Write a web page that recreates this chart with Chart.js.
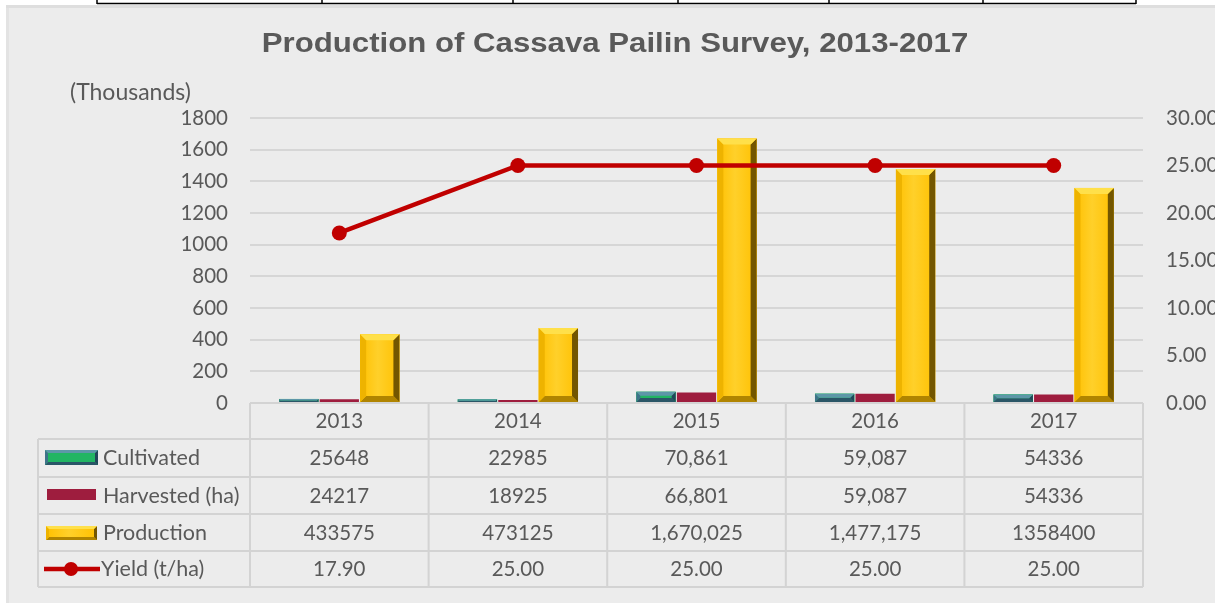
<!DOCTYPE html>
<html>
<head>
<meta charset="utf-8">
<script src="https://cdn.jsdelivr.net/npm/chart.js@4.4.1/dist/chart.umd.min.js"></script>
<style>
  html, body { margin: 0; padding: 0; background: #ffffff; }
  #wrap { width: 1215px; height: 603px; position: relative; }
</style>
</head>
<body>
<div id="wrap"><canvas id="c" width="1215" height="603"></canvas></div>
<script>
// ---- data (as printed in the data table) ----
const years = ['2013', '2014', '2015', '2016', '2017'];
const seriesNames = ['Cultivated', 'Harvested (ha)', 'Production', 'Yield (t/ha)'];
const cultivatedText = ['25648', '22985', '70,861', '59,087', '54336'];
const harvestedText  = ['24217', '18925', '66,801', '59,087', '54336'];
const productionText = ['433575', '473125', '1,670,025', '1,477,175', '1358400'];
const yieldText      = ['17.90', '25.00', '25.00', '25.00', '25.00'];
const leftTicks  = { min: 0, max: 1800, step: 200 };   // thousands
const rightTicks = { min: 0, max: 30, step: 5 };

const toNum = s => Number(s.replace(/,/g, ''));
const cultivated = cultivatedText.map(toNum);
const harvested  = harvestedText.map(toNum);
const production = productionText.map(toNum);
const yieldVals  = yieldText.map(toNum);
const inThousands = arr => arr.map(v => v / 1000);

const TEXT = '#595959';
const FONT = 'Lato, "Open Sans", sans-serif';

// ---- bevelled bar styles ----
const bevel = {
  cultivated: { face: '#21b563', top: '#5d97a8', left: '#3e7389', right: '#22465a', bottom: '#2a5667', size: 4 },
  harvested:  { face: '#9e1d3e', size: 0 },
  production: { face: '#ffc000', hi: '#ffd02a', top: '#ffe04a', left: '#eeb300', right: '#735600', bottom: '#b08400', size: 6 }
};

function drawBevelRect(ctx, L, T, R, B, st) {
  const w = R - L, h = B - T;
  if (w <= 0 || h <= 0) return;
  const g = ctx.createLinearGradient(L, 0, R, 0);
  g.addColorStop(0, st.face);
  g.addColorStop(0.45, st.hi || st.face);
  g.addColorStop(1, st.face);
  ctx.fillStyle = g;
  ctx.fillRect(L, T, w, h);
  const b = Math.min(st.size, h / 2, w / 2);
  if (b <= 0) return;
  const poly = (pts, col) => {
    ctx.beginPath();
    ctx.moveTo(pts[0][0], pts[0][1]);
    for (let i = 1; i < pts.length; i++) ctx.lineTo(pts[i][0], pts[i][1]);
    ctx.closePath();
    ctx.fillStyle = col;
    ctx.fill();
  };
  poly([[L, B], [L + b, B - b], [R - b, B - b], [R, B]], st.bottom);
  poly([[L, T], [L + b, T + b], [L + b, B - b], [L, B]], st.left);
  poly([[R, T], [R, B], [R - b, B - b], [R - b, T + b]], st.right);
  poly([[L, T], [R, T], [R - b, T + b], [L + b, T + b]], st.top);
}

// ---- page frame behind the chart ----
const framePlugin = {
  id: 'frame',
  beforeDraw(chart) {
    const ctx = chart.ctx;
    ctx.save();
    ctx.fillStyle = '#ffffff';
    ctx.fillRect(0, 0, chart.width, chart.height);
    ctx.fillStyle = '#ececec';
    ctx.fillRect(6, 5, chart.width - 6, chart.height - 5);
    ctx.fillStyle = '#dedede';
    ctx.fillRect(6, 5, chart.width - 6, 3);
    ctx.fillStyle = '#e3e3e3';
    ctx.fillRect(6, 8, 3, chart.height - 8);
    // ruled strip along the top edge
    ctx.strokeStyle = '#000000';
    ctx.lineWidth = 1.5;
    ctx.beginPath();
    ctx.moveTo(97, 3.5); ctx.lineTo(1136, 3.5);
    [97, 322, 513, 678, 829, 983, 1136].forEach(x => { ctx.moveTo(x, 0); ctx.lineTo(x, 4); });
    ctx.stroke();
    // title (slightly widened lettering) and unit caption
    ctx.fillStyle = TEXT;
    ctx.font = 'bold 27px "Liberation Sans", Arial, sans-serif';
    ctx.textAlign = 'center';
    ctx.textBaseline = 'middle';
    ctx.save();
    ctx.translate(615, 45);
    ctx.scale(1.155, 1);
    ctx.fillText('Production of Cassava Pailin Survey, 2013-2017', 0, 0);
    ctx.restore();
    ctx.font = '23px ' + FONT;
    ctx.textAlign = 'left';
    ctx.fillText('(Thousands)', 70, 93);
    ctx.restore();
  }
};

// ---- bevel overlay on each bar element ----
const bevelPlugin = {
  id: 'bevel',
  afterDatasetDraw(chart, args) {
    const ds = chart.data.datasets[args.index];
    if (!ds.bevel || ds.bevel.size <= 0) return;
    const ctx = chart.ctx;
    ctx.save();
    args.meta.data.forEach(el => {
      const p = el.getProps(['x', 'y', 'base', 'width'], true);
      const L = p.x - p.width / 2, R = p.x + p.width / 2;
      drawBevelRect(ctx, L, Math.min(p.y, p.base), R, Math.max(p.y, p.base), ds.bevel);
    });
    ctx.restore();
  }
};

// ---- data table under the plot, aligned to the category scale ----
const tablePlugin = {
  id: 'dataTable',
  afterDraw(chart) {
    const ctx = chart.ctx;
    const xs = chart.scales.x;
    const area = chart.chartArea;
    const n = years.length;
    const half = (xs.getPixelForValue(1) - xs.getPixelForValue(0)) / 2;
    const edges = [xs.getPixelForValue(0) - half];
    for (let i = 0; i < n; i++) edges.push(xs.getPixelForValue(i) + half);
    const headTop = area.bottom, headBot = 439;
    const rows = [439, 477, 514, 551, 587];
    const tableLeft = 38;
    ctx.save();
    ctx.strokeStyle = '#d3d3d3';
    ctx.lineWidth = 2;
    ctx.beginPath();
    ctx.moveTo(edges[0], headTop); ctx.lineTo(edges[n], headTop);
    edges.forEach(x => { ctx.moveTo(x, headTop); ctx.lineTo(x, headBot); });
    rows.forEach(y => { ctx.moveTo(tableLeft, y); ctx.lineTo(edges[n], y); });
    [tableLeft].concat(edges).forEach(x => { ctx.moveTo(x, rows[0]); ctx.lineTo(x, rows[rows.length - 1]); });
    ctx.stroke();

    ctx.fillStyle = TEXT;
    ctx.font = '20.5px ' + FONT;
    ctx.textAlign = 'center';
    ctx.textBaseline = 'middle';
    years.forEach((y, i) => ctx.fillText(y, xs.getPixelForValue(i), 421));
    const cols = [cultivatedText, harvestedText, productionText, yieldText];
    cols.forEach((arr, r) => {
      const cy = (rows[r] + rows[r + 1]) / 2 + 0.5;
      arr.forEach((t, i) => ctx.fillText(t, xs.getPixelForValue(i), cy));
    });

    // legend keys + series names
    ctx.textAlign = 'left';
    ctx.font = '21.5px ' + FONT;
    seriesNames.forEach((name, r) => {
      const cy = (rows[r] + rows[r + 1]) / 2 + 0.5;
      ctx.fillStyle = TEXT;
      ctx.fillText(name, r === 3 ? 101 : 103, cy);
    });
    drawBevelRect(ctx, 45, 450, 98, 465, Object.assign({}, bevel.cultivated, { size: 3 }));
    drawBevelRect(ctx, 47, 489, 96, 500, bevel.harvested);
    drawBevelRect(ctx, 46, 526, 97, 540, Object.assign({}, bevel.production, { size: 3 }));
    ctx.strokeStyle = '#c00000';
    ctx.lineWidth = 4.5;
    ctx.beginPath(); ctx.moveTo(44, 569); ctx.lineTo(100, 569); ctx.stroke();
    ctx.fillStyle = '#c00000';
    ctx.beginPath(); ctx.arc(71, 569, 7, 0, Math.PI * 2); ctx.fill();
    ctx.restore();
  }
};

new Chart(document.getElementById('c'), {
  data: {
    labels: years,
    datasets: [
      {
        type: 'line', label: seriesNames[3], data: yieldVals, yAxisID: 'y1', order: 0,
        borderColor: '#c00000', backgroundColor: '#c00000', borderWidth: 4.5,
        pointRadius: 7.5, pointHoverRadius: 7.5, pointBackgroundColor: '#c00000', pointBorderWidth: 0,
        tension: 0
      },
      { type: 'bar', label: seriesNames[0], data: inThousands(cultivated), yAxisID: 'y', order: 1,
        backgroundColor: bevel.cultivated.face, bevel: bevel.cultivated },
      { type: 'bar', label: seriesNames[1], data: inThousands(harvested), yAxisID: 'y', order: 2,
        backgroundColor: bevel.harvested.face, bevel: bevel.harvested },
      { type: 'bar', label: seriesNames[2], data: inThousands(production), yAxisID: 'y', order: 3,
        backgroundColor: bevel.production.face, bevel: bevel.production }
    ]
  },
  options: {
    responsive: false,
    animation: false,
    devicePixelRatio: 1,
    layout: { padding: { top: 118, bottom: 200, left: 0, right: 0 } },
    datasets: { bar: { categoryPercentage: 0.68, barPercentage: 0.97, borderWidth: 0 } },
    plugins: { legend: { display: false }, tooltip: { enabled: false }, title: { display: false } },
    scales: {
      x: { type: 'category', display: false, offset: true },
      y: {
        position: 'left', min: leftTicks.min, max: leftTicks.max,
        border: { display: false },
        grid: { color: '#d6d6d6', lineWidth: 2, drawTicks: false },
        ticks: { stepSize: leftTicks.step, color: TEXT, font: { family: FONT, size: 20.5 }, padding: 22,
          callback: v => String(v) },
        afterFit(s) { s.width = 250; }
      },
      y1: {
        position: 'right', min: rightTicks.min, max: rightTicks.max,
        border: { display: false },
        grid: { display: false, drawTicks: false },
        ticks: { stepSize: rightTicks.step, color: TEXT, font: { family: FONT, size: 20.5 }, padding: 23,
          callback: v => Number(v).toFixed(2) },
        afterFit(s) { s.width = 72; }
      }
    }
  },
  plugins: [framePlugin, bevelPlugin, tablePlugin]
});
</script>
</body>
</html>
